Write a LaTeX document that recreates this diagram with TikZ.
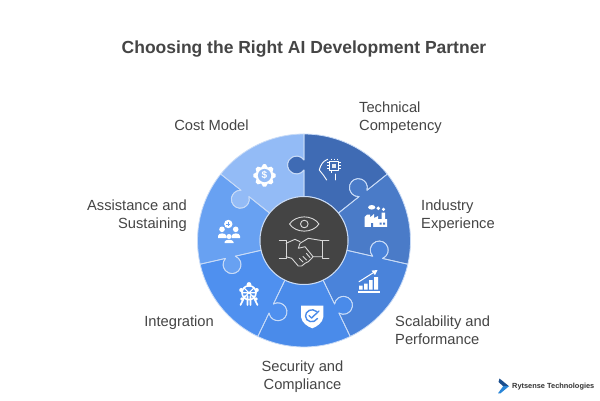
\documentclass[tikz,border=0pt]{standalone}
\usepackage{fontspec}
\setmainfont{Liberation Sans}
\definecolor{txt}{HTML}{454545}
\definecolor{hub}{HTML}{444444}
\definecolor{edge}{HTML}{C8DBF7}
\definecolor{segA}{HTML}{3F6BB4}
\definecolor{segB}{HTML}{4A7BC8}
\definecolor{segC}{HTML}{4A83DA}
\definecolor{segD}{HTML}{4A8BEA}
\definecolor{segE}{HTML}{4F90EF}
\definecolor{segF}{HTML}{68A1F2}
\definecolor{segG}{HTML}{93BBF6}
\definecolor{logoA}{HTML}{1B4F8F}
\definecolor{logoB}{HTML}{2A86D8}
\newcommand{\SegPath}[2]{%
  (#1:44) -- (#1:70.5) arc[start angle=#1-124, end angle=#1-416, radius=9pt] -- (#1:106.5)
  arc[start angle=#1, end angle=#2, radius=106.5pt] -- (#2:80.5)
  arc[start angle=#2-56, end angle=#2+236, radius=9pt] -- (#2:44)
  arc[start angle=#2, end angle=#1, radius=44pt] -- cycle}
\tikzset{
  lab/.style={inner sep=0pt, text=txt, font=\fontsize{14.7}{18}\selectfont},
  wline/.style={draw=white, line width=1pt, line cap=round, line join=round},
  hubline/.style={draw=white!85!black, line width=0.9pt, line cap=round, line join=round}
}
\begin{document}
\begin{tikzpicture}[x=1pt,y=-1pt]
\path[use as bounding box, fill=white] (0,0) rectangle (600,400);
\node[inner sep=0pt, text=txt, font=\fontsize{17.5}{20}\bfseries\selectfont] (title) at (304,49) {Choosing the Right AI Development Partner};
% wheel
\begin{scope}[shift={(304,240.5)}, y=1pt]
\foreach \k/\c in {0/segA,1/segB,2/segC,3/segD,4/segE,5/segF,6/segG}{
  \pgfmathsetmacro{\ta}{90-51.4286*\k}
  \pgfmathsetmacro{\tb}{\ta-51.4286}
  \fill[\c] \SegPath{\ta}{\tb};
}
\foreach \k in {0,...,6}{
  \pgfmathsetmacro{\ta}{90-51.4286*\k}
  \pgfmathsetmacro{\tb}{\ta-51.4286}
  \draw[edge, line width=0.8pt, line join=round] \SegPath{\ta}{\tb};
}
\node[circle, fill=hub, draw=edge, line width=1pt, minimum size=88pt, inner sep=0pt] (hubnode) at (0,0) {};
\end{scope}
% centre eye
\draw[hubline] (289.5,224) .. controls (296,214.5) and (312.5,214.5) .. (319,224) .. controls (312.5,233.5) and (296,233.5) .. (289.5,224) -- cycle;
\draw[hubline] (304.3,224) circle[radius=3.8pt];
% centre handshake
\draw[hubline] (279.3,240) -- (286,240) -- (286,258.3) -- (279.3,258.3);
\draw[hubline] (329,240) -- (322.7,240) -- (322.7,258.3) -- (329,258.3);
\draw[hubline] (286,243.3) -- (295,239.3) -- (300,241.7);
\draw[hubline] (322.7,240.7) -- (308.3,238.3) -- (300,243.3) -- (298.3,248.3) -- (305,246.7) -- (311.7,255) -- (313,256.7) -- (322.7,256.7);
\draw[hubline] (286,256.7) -- (291.7,258.3) -- (298.3,266) -- (301.7,266) -- (305,263.3) -- (308.3,261.7) -- (311.7,258.3) -- (313,256.7);
\draw[hubline] (303,262) -- (299.5,258.5) (306.5,260) -- (303,256.5) (310,257.5) -- (306.5,253.5);
% gear
\fill[white] (264.5,164) \foreach \i in {1,...,24}{ -- ({264.5+(mod(\i,3)==0 ? 11.2 : (mod(\i,3)==1 ? 11.2 : 8.6))*sin(\i*15-7.5)},{175.5-(mod(\i,3)==0 ? 11.2 : (mod(\i,3)==1 ? 11.2 : 8.6))*cos(\i*15-7.5)})} -- cycle;
\fill[segG] (264.5,175.5) circle[radius=6.6pt];
\node[inner sep=0pt, text=white, font=\fontsize{10}{10}\bfseries\selectfont] (dollar) at (264.5,175.5) {\$};
% chip and head
\draw[wline, line width=0.9pt] (327.7,159.3) .. controls (323,161) and (320.5,165) .. (319.3,170) -- (323.3,175) -- (326.7,180);
\draw[wline, line width=0.9pt] (335,174) -- (335,180);
\draw[wline, line width=0.9pt] (329.5,161) rectangle (338.5,170);
\fill[white!85!segA] (332,163.5) rectangle (336,167.5);
\draw[white, line width=0.6pt] (331,158.5) -- (331,160.3) (334,158.5) -- (334,160.3) (337,158.5) -- (337,160.3) (327,162.5) -- (328.8,162.5) (327,165.5) -- (328.8,165.5) (327,168.5) -- (328.8,168.5) (339.2,162.5) -- (341,162.5) (339.2,165.5) -- (341,165.5) (339.2,168.5) -- (341,168.5) (331,170.7) -- (331,172.5);
% factory
\fill[white] (364.5,226.8) -- (364.5,217) -- (367,214.5) -- (370,214.5) -- (370,217.5) -- (374,214) -- (374,218) -- (378,216) -- (378,219) -- (381.5,219) -- (381.5,212.5) -- (385,212.5) -- (385,219) -- (387,219) -- (387,226.8) -- cycle;
\fill[white] (371.7,207.3) ellipse[x radius=3.6pt, y radius=2.3pt];
\fill[white] (378.3,208.3) circle[radius=1.9pt];
\fill[white] (383.5,209.3) circle[radius=1.7pt];
\fill[segB] (379.5,222.5) rectangle (381.7,224.5) (383,222.5) rectangle (385.2,224.5) (371,223) rectangle (373,226.8);
% chart
\fill[white] (357.7,291) rectangle (379.5,292.8);
\fill[white] (359,285.5) rectangle (362.5,289.7) (364,283.5) rectangle (367.5,289.7) (369,280) rectangle (372.5,289.7) (374,277) rectangle (378,289.7);
\draw[wline] (359,281.7) -- (376,271);
\fill[white] (377.5,270) -- (371.5,270.6) -- (375,275.2) -- cycle;
% shield
\fill[white] (301,305.7) -- (323.3,305.7) -- (323.3,317) .. controls (322.5,323) and (317,326.5) .. (312.3,328.3) .. controls (307.5,326.5) and (302,323) .. (301,317) -- cycle;
\draw[segD, line width=1.4pt, line cap=round] (316.5,311.5) .. controls (312,307.5) and (305.5,311) .. (305.5,316) .. controls (305.5,322) and (314,324) .. (317.5,318.5);
\draw[segD, line width=1.4pt, line cap=round, line join=round] (309,315.5) -- (311.5,318) -- (319,311);
% integration tower
\draw[wline, line width=1.6pt] (249,292.7) circle[radius=7pt];
\draw[wline, line width=1.1pt] (242,292.7) -- (256,292.7) (244,288) -- (254,297.5) (254,288) -- (244,297.5);
\fill[white] (249,284.5) circle[radius=2.4pt] (241.2,290) circle[radius=2pt] (256.8,290) circle[radius=2pt] (242,299) circle[radius=1.8pt] (256,299) circle[radius=1.8pt];
\draw[wline, line width=1.7pt] (245,296) -- (240.5,305) (253,296) -- (257.5,305) (247.5,296) -- (247.5,305) (250.5,296) -- (250.5,305);
% people
\fill[white] (228.3,224) circle[radius=4.2pt];
\draw[segF, line width=0.7pt] (226.2,224) -- (230.4,224) (228.3,221.9) -- (228.3,226.1);
\fill[white] (222,229.3) circle[radius=2.8pt] (235.7,229.3) circle[radius=2.8pt] (229,236.5) circle[radius=2.5pt];
\fill[white] (218,238) -- (218,236) .. controls (218,232.5) and (226,232.5) .. (226.5,236) -- (226.5,238) -- cycle;
\fill[white] (231.5,238) -- (231.5,236) .. controls (232,232.5) and (240,232.5) .. (240,236) -- (240,238) -- cycle;
\fill[white] (224.5,243) -- (224.5,242) .. controls (224.5,239) and (233.5,239) .. (233.5,242) -- (233.5,243) -- cycle;
% labels
\node[lab, anchor=center] (cost) at (211.5,125) {Cost Model};
\node[lab, anchor=north west, align=left] (tech) at (359,102) {Technical\\Competency};
\node[lab, anchor=north west, align=left] (indu) at (421,200) {Industry\\Experience};
\node[lab, anchor=north west, align=left] (scal) at (395,316) {Scalability and\\Performance};
\node[lab, anchor=north, align=center] (secu) at (302.5,361) {Security and\\Compliance};
\node[lab, anchor=east] (inte) at (214,323) {Integration};
\node[lab, anchor=north east, align=right] (assi) at (187,200) {Assistance and\\Sustaining};
% logo
\fill[logoA] (499.5,378.5) -- (509,386.2) -- (503.2,386.2) -- (498.5,382) -- cycle;
\fill[logoB] (509,386.2) -- (500.5,393.3) -- (498,393.3) -- (503.2,386.2) -- cycle;
\node[inner sep=0pt, anchor=west, text=black!80, font=\fontsize{7.4}{9}\bfseries\selectfont] (logo) at (512,386.3) {Rytsense Technologies};
\end{tikzpicture}
\end{document}
